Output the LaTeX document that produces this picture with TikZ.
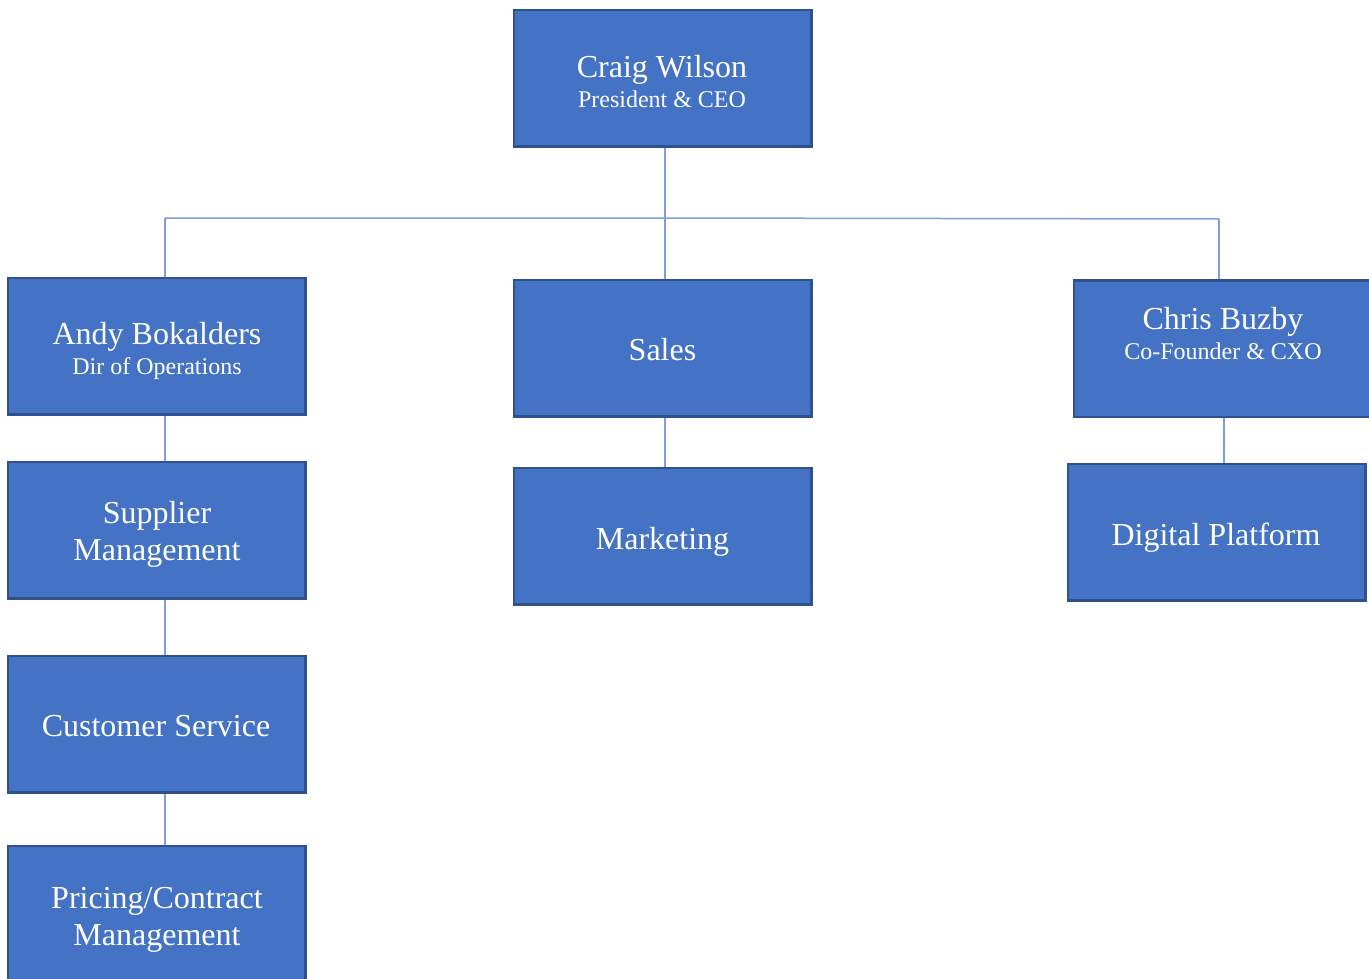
\documentclass[tikz,border=0pt]{standalone}
\usepackage{fontspec}
\setmainfont{Liberation Serif}
\usetikzlibrary{calc}
\definecolor{boxfill}{HTML}{4472C4}
\definecolor{boxedge}{HTML}{2F528F}
\definecolor{conn}{HTML}{7F9FDA}
\begin{document}
\begin{tikzpicture}[x=1pt,y=-1pt,
  orgbox/.style={draw=boxedge, fill=boxfill, line width=2.5pt, minimum width=295pt, minimum height=134pt, inner sep=0pt},
  bigtext/.style={text=white, align=center, inner sep=0pt, font=\fontsize{32}{37}\selectfont},
  twotext/.style={text=white, align=center, inner sep=0pt, font=\fontsize{24}{30}\selectfont},
  link/.style={draw=conn, line width=1.5pt}]
\useasboundingbox (0,0) rectangle (1369,979);
\clip (0,0) rectangle (1369,979);

% junction coordinates
\coordinate (jL) at (165,218);
\coordinate (jM) at (665,218);
\coordinate (jR) at (1219,219);
\coordinate (xC) at (1224,0);

% boxes
\path
  (662.5,78.5) node[orgbox] (ceo) {}
  (156.5,346) node[orgbox] (andy) {}
  (156.5,530) node[orgbox] (sup) {}
  (156.5,724) node[orgbox] (cs) {}
  (156.5,914) node[orgbox] (price) {}
  (662.5,348) node[orgbox] (sales) {}
  (662.5,536) node[orgbox] (mkt) {}
  (1222.5,348.5) node[orgbox] (chris) {}
  (1216.5,532) node[orgbox] (dig) {};

% connectors
\draw[link] (ceo.south -| jM) -- (jM);
\draw[link] (jL) -- (jM) -- (jR);
\draw[link] (jL) -- (andy.north -| jL);
\draw[link] (jM) -- (sales.north -| jM);
\draw[link] (jR) -- (chris.north -| jR);
\draw[link] (andy.south -| jL) -- (sup.north -| jL);
\draw[link] (sup.south -| jL) -- (cs.north -| jL);
\draw[link] (cs.south -| jL) -- (price.north -| jL);
\draw[link] (sales.south -| jM) -- (mkt.north -| jM);
\draw[link] (chris.south -| xC) -- (dig.north -| xC);

% redraw boxes over connector ends
\foreach \b in {ceo,andy,sup,cs,price,sales,mkt,chris,dig}{
  \draw[draw=boxedge, fill=boxfill, line width=2.5pt] (\b.south west) rectangle (\b.north east);
}

% texts
\node[twotext] (ceoT) at (662,82) {{\fontsize{32}{37}\selectfont Craig Wilson}\\President \& CEO};
\node[twotext] (andyT) at (157,350.5) {{\fontsize{32}{37}\selectfont Andy Bokalders}\\Dir of Operations};
\node[twotext] (chrisT) at (1223,333.5) {{\fontsize{32}{37}\selectfont Chris Buzby}\\Co-Founder \& CXO};
\node[bigtext] (supT) at (157,534) {Supplier\\Management};
\node[bigtext] (csT) at (156,726.5) {Customer Service};
\node[bigtext] (priceT) at (157,919.5) {Pricing/Contract\\Management};
\node[bigtext] (salesT) at (662.5,350) {Sales};
\node[bigtext] (mktT) at (662.5,542) {Marketing};
\node[bigtext] (digT) at (1216,538) {Digital Platform};
\end{tikzpicture}
\end{document}
